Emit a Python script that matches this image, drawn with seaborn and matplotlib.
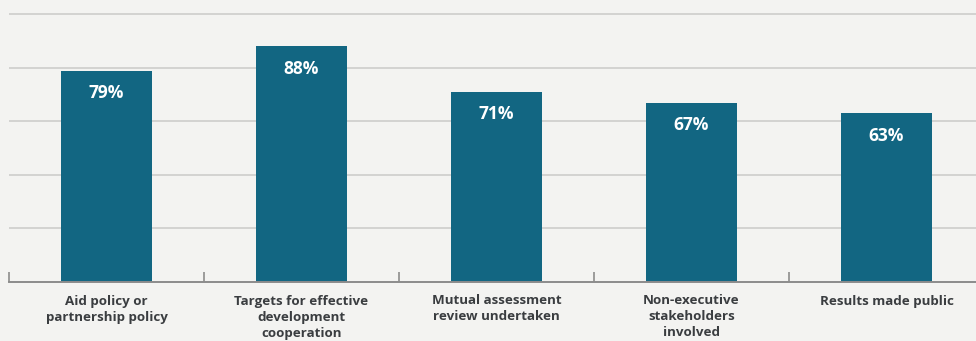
import matplotlib
matplotlib.use("Agg")
import matplotlib.pyplot as plt
import seaborn as sns
import pandas as pd
import numpy as np

categories = ["Aid policy or\npartnership policy",
              "Targets for effective\ndevelopment\ncooperation",
              "Mutual assessment\nreview undertaken",
              "Non-executive\nstakeholders\ninvolved",
              "Results made public"]
values = [79, 88, 71, 67, 63]
value_labels = ["79%", "88%", "71%", "67%", "63%"]

sns.set_theme(style="white")
plt.rcParams['font.family'] = ['Open Sans', 'DejaVu Sans']

bg = "#f3f3f1"
bar_color = "#126682"

fig = plt.figure(figsize=(9.76, 3.41), dpi=100, facecolor=bg)
ax = fig.add_axes([9/976, 59/341, 975/976, 269/341], facecolor=bg)

df = pd.DataFrame({"cat": categories, "val": values})
sns.barplot(data=df, x="cat", y="val", color=bar_color, saturation=1, width=0.47,
            linewidth=0, edgecolor="none", ax=ax, zorder=3)

ax.set_ylim(0, 100.5)
ax.set_xlim(-0.5, len(categories) - 0.5)
ax.set_yticks([20, 40, 60, 80, 100])
ax.yaxis.grid(True, color="#d0d0ce", linewidth=1.3, zorder=0)
ax.xaxis.grid(False)
ax.tick_params(axis="y", left=False, labelleft=False)
for s in ["top", "right", "left"]:
    ax.spines[s].set_visible(False)
ax.spines["bottom"].set_color("#8c8c8c")
ax.spines["bottom"].set_linewidth(1.4)
ax.spines["bottom"].set_zorder(4)

ax.set_xticks(range(len(categories)))
ax.set_xticklabels(categories, fontsize=9.6, fontweight="bold", color="#3a3d40", linespacing=1.3, va="top")
ax.tick_params(axis="x", which="major", length=0, pad=9)
ax.set_xticks(np.arange(-0.5, len(categories), 1), minor=True)
ax.tick_params(axis="x", which="minor", length=7, width=1.2, color="#8c8c8c", direction="in", bottom=True)
ax.set_xlabel("")
ax.set_ylabel("")

for i, (v, lab) in enumerate(zip(values, value_labels)):
    ax.text(i, v - 8.3, lab, ha="center", va="center", color="white",
            fontsize=12.5, fontweight="bold", zorder=5)

fig.savefig("out.png", dpi=100, facecolor=bg)
